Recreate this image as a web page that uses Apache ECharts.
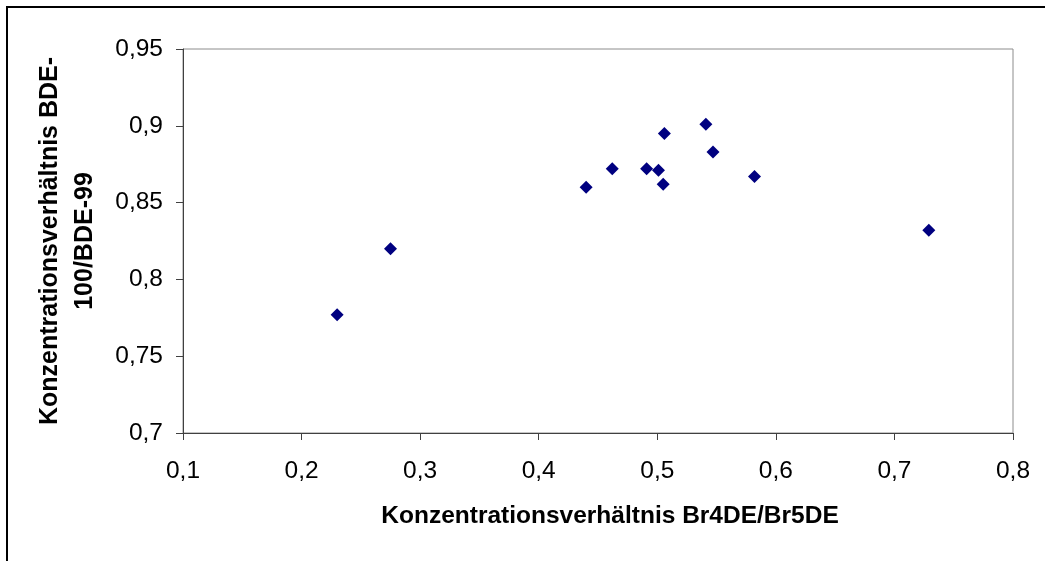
<!DOCTYPE html>
<html>
<head>
<meta charset="utf-8">
<script src="https://cdn.jsdelivr.net/npm/echarts@6/dist/echarts.min.js"></script>
<style>
html,body{margin:0;padding:0;background:#fff;}
#chart{width:1045px;height:561px;position:relative;}
#frame{position:absolute;left:6px;top:6px;width:1045px;height:561px;border-left:2px solid #000;border-top:2px solid #000;pointer-events:none;}
</style>
</head>
<body>
<div id="chart"></div>
<div id="frame"></div>
<script>
// Data
const ratioBr4Br5 = [0.230, 0.275, 0.440, 0.462, 0.491, 0.501, 0.505, 0.506, 0.541, 0.547, 0.582, 0.729];
const ratioBde100Bde99 = [0.777, 0.820, 0.860, 0.872, 0.872, 0.871, 0.862, 0.895, 0.901, 0.883, 0.867, 0.832];
const xTitle = 'Konzentrationsverhältnis Br4DE/Br5DE';
const yTitle = 'Konzentrationsverhältnis BDE-\n100/BDE-99';

const points = ratioBr4Br5.map((x, i) => [x, ratioBde100Bde99[i]]);
const fmt = v => String(parseFloat(v.toFixed(2))).replace('.', ',');

const chart = echarts.init(document.getElementById('chart'), null, {renderer: 'canvas'});
chart.setOption({
  animation: false,
  backgroundColor: '#fff',
  grid: {left: 183, top: 49, right: 32, bottom: 128, outerBoundsMode: 'none', containLabel: false,
         show: true, borderColor: '#8c8c8c', borderWidth: 1, backgroundColor: 'transparent'},
  xAxis: {
    type: 'value', min: 0.1, max: 0.8, interval: 0.1,
    name: xTitle, nameLocation: 'middle', nameGap: 71,
    nameTextStyle: {fontFamily: 'Liberation Sans', fontSize: 24.5, fontWeight: 'bold', color: '#000', padding: [0, 0, 0, 24]},
    axisLine: {show: true, lineStyle: {color: '#404040', width: 1}},
    axisTick: {show: true, inside: false, length: 7, lineStyle: {color: '#404040'}},
    axisLabel: {fontFamily: 'Liberation Sans', fontSize: 24.5, color: '#000', margin: 26, formatter: fmt},
    splitLine: {show: false}
  },
  yAxis: {
    type: 'value', min: 0.7, max: 0.95, interval: 0.05,
    name: yTitle, nameLocation: 'middle', nameGap: 80, nameRotate: 90,
    nameTextStyle: {fontFamily: 'Liberation Sans', fontSize: 25, fontWeight: 'bold', color: '#000', lineHeight: 35},
    axisLine: {show: true, lineStyle: {color: '#404040', width: 1}},
    axisTick: {show: true, inside: false, length: 7, lineStyle: {color: '#404040'}},
    axisLabel: {fontFamily: 'Liberation Sans', fontSize: 24.5, color: '#000', margin: 20, formatter: fmt},
    splitLine: {show: false}
  },
  series: [{
    type: 'scatter',
    data: points,
    symbol: 'diamond',
    symbolSize: 13,
    itemStyle: {color: '#000080', opacity: 1}
  }]
});
</script>
</body>
</html>
